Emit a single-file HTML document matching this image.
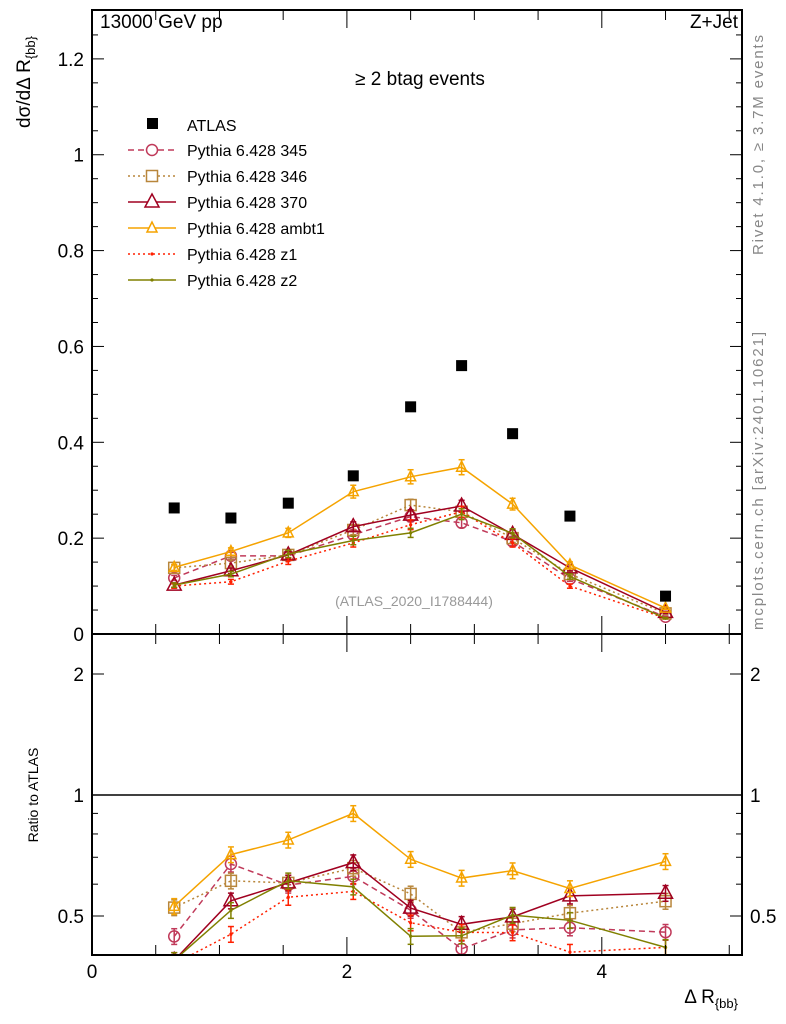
<!DOCTYPE html>
<html><head><meta charset="utf-8"><style>
html,body{margin:0;padding:0;background:#fff;}
svg{display:block;font-family:"Liberation Sans",sans-serif;}
</style></head><body>
<svg id="chart" width="786" height="1024" viewBox="0 0 786 1024">
<g id="static">
<text x="100" y="28" font-size="19">13000 GeV pp</text>
<text x="738" y="28" font-size="19" text-anchor="end">Z+Jet</text>
<text x="420" y="85" font-size="19" text-anchor="middle">≥ 2 btag events</text>
<text x="414" y="606" font-size="14" fill="#999" text-anchor="middle">(ATLAS_2020_I1788444)</text>
<text transform="translate(763,35) rotate(-90)" font-size="15" fill="#888" text-anchor="end" textLength="220">Rivet 4.1.0, ≥ 3.7M events</text>
<text transform="translate(763,630) rotate(-90)" font-size="15" fill="#888" textLength="298">mcplots.cern.ch [arXiv:2401.10621]</text>
<text transform="translate(30,36) rotate(-90)" font-size="19" text-anchor="end">dσ/dΔ R<tspan font-size="13" dy="5">{bb}</tspan></text>
<text transform="translate(38,795) rotate(-90)" font-size="14" text-anchor="middle">Ratio to ATLAS</text>
<text x="738" y="1003" font-size="19" text-anchor="end">Δ R<tspan font-size="13" dy="5">{bb}</tspan></text>
</g>
<g id="plots"></g>
</svg>
<script>
const xCenters=[0.645,1.09,1.54,2.05,2.5,2.9,3.3,3.75,4.5];
const atlasVals=[0.263,0.242,0.273,0.33,0.474,0.56,0.418,0.246,0.079];
const mc345=[0.117,0.163,0.163,0.207,0.245,0.232,0.193,0.115,0.036];
const mc346=[0.138,0.148,0.165,0.217,0.269,0.255,0.2,0.125,0.043];
const mc370=[0.102,0.132,0.165,0.224,0.248,0.267,0.208,0.138,0.045];
const mcAmbt1=[0.139,0.172,0.211,0.297,0.328,0.348,0.271,0.144,0.054];
const mcZ1=[0.1,0.109,0.152,0.19,0.228,0.255,0.19,0.1,0.033];
const mcZ2=[0.102,0.125,0.167,0.195,0.211,0.25,0.21,0.12,0.033];
const mainYTicks=[0,0.2,0.4,0.6,0.8,1,1.2];
const mainYTickLabels=["0","0.2","0.4","0.6","0.8","1","1.2"];
const xTicks=[0,2,4];
const xTickLabels=["0","2","4"];
const seriesNames=["Pythia 6.428 345","Pythia 6.428 346","Pythia 6.428 370","Pythia 6.428 ambt1","Pythia 6.428 z1","Pythia 6.428 z2"];

const NS="http://www.w3.org/2000/svg";
const X0=92,X1=742,XMAX=5.1;
const MT=10,MB=634,YMAX=1.302;
const RT=634,RB=955;
const sx=v=>X0+(X1-X0)*v/XMAX;
const sy=v=>MB-(MB-MT)*v/YMAX;
const sr=v=>795-121*Math.log2(v);
const root=document.getElementById('plots');
function el(tag,attrs,parent){const e=document.createElementNS(NS,tag);for(const k in attrs)e.setAttribute(k,attrs[k]);(parent||root).appendChild(e);return e;}

const styles=[
 {c:'#c03a5a',dash:'6,4',m:'circle'},
 {c:'#b8863b',dash:'2,3',m:'square'},
 {c:'#a00020',dash:'',m:'bigtri'},
 {c:'#f5a300',dash:'',m:'tri'},
 {c:'#ff2000',dash:'2,3',m:'dot'},
 {c:'#808000',dash:'',m:'dot'}];
const series=[mc345,mc346,mc370,mcAmbt1,mcZ1,mcZ2];

const defs=el('defs',{});
const c1=el('clipPath',{id:'cm'},defs);el('rect',{x:X0,y:MT,width:X1-X0,height:MB-MT},c1);
const c2=el('clipPath',{id:'cr'},defs);el('rect',{x:X0,y:RT,width:X1-X0,height:RB-RT},c2);

function marker(g,s,x,y){
 if(s.m==='circle')return el('circle',{cx:x,cy:y,r:5.5,fill:'none',stroke:s.c,'stroke-width':1.5},g);
 if(s.m==='square')return el('rect',{x:x-5.5,y:y-5.5,width:11,height:11,fill:'none',stroke:s.c,'stroke-width':1.5},g);
 if(s.m==='bigtri')return el('polygon',{points:`${x},${y-8} ${x-7},${y+5} ${x+7},${y+5}`,fill:'none',stroke:s.c,'stroke-width':1.5},g);
 if(s.m==='tri')return el('polygon',{points:`${x},${y-6} ${x-5},${y+4} ${x+5},${y+4}`,fill:'none',stroke:s.c,'stroke-width':1.5},g);
 return el('circle',{cx:x,cy:y,r:1.6,fill:s.c},g);
}

function drawPanel(clip,yfun,valsFn,panel){
 const g=el('g',{'clip-path':`url(#${clip})`});
 
 
 series.forEach((vals,i)=>{
  const s=styles[i];
  const v=valsFn(vals);
  const sg=el('g',{},g);
  
  
  const pts=xCenters.map((x,j)=>sx(x)+','+yfun(v[j])).join(' ');
  el('polyline',{points:pts,fill:'none',stroke:s.c,'stroke-width':1.5,'stroke-dasharray':s.dash},sg);
  xCenters.forEach((x,j)=>{
   const y=yfun(v[j]);const e=v[j]*0.045;
   const y1=yfun(v[j]+e),y2=yfun(v[j]-e);
   el('line',{x1:sx(x),x2:sx(x),y1:y1,y2:y2,stroke:s.c,'stroke-width':1.5},sg);
   el('line',{x1:sx(x)-3,x2:sx(x)+3,y1:y1,y2:y1,stroke:s.c,'stroke-width':1.5},sg);
   el('line',{x1:sx(x)-3,x2:sx(x)+3,y1:y2,y2:y2,stroke:s.c,'stroke-width':1.5},sg);
   const m=marker(sg,s,sx(x),y);
   
   
  });
 });
 return g;
}
drawPanel('cm',sy,v=>v,'main');
drawPanel('cr',sr,v=>v.map((a,j)=>a/atlasVals[j]),'ratio');
atlasVals.forEach((v,j)=>{
 const r=el('rect',{x:sx(xCenters[j])-5.5,y:sy(v)-5.5,width:11,height:11,fill:'#000'});
 
 
});
el('line',{x1:X0,x2:X1,y1:sr(1),y2:sr(1),stroke:'#000','stroke-width':1.5});

el('rect',{x:X0,y:MT,width:X1-X0,height:MB-MT,fill:'none',stroke:'#000','stroke-width':2});
el('rect',{x:X0,y:RT,width:X1-X0,height:RB-RT,fill:'none',stroke:'#000','stroke-width':2});

for(let v=0;v<=1.3;v+=0.05){
 const major=Math.abs(v/0.2-Math.round(v/0.2))<1e-6;const L=major?12:6;const y=sy(v);
 el('line',{x1:X0,x2:X0+L,y1:y,y2:y,stroke:'#000'});el('line',{x1:X1-L,x2:X1,y1:y,y2:y,stroke:'#000'});
}
mainYTicks.forEach((v,i)=>{const t=el('text',{x:X0-8,y:sy(v)+7,'font-size':19,'text-anchor':'end'});t.textContent=mainYTickLabels[i];
 });
for(let v=0;v<=5.1;v+=0.5){
 const major=Math.abs(v%2)<1e-6;const L=major?18:10;const x=sx(v);
 [MB,RB].forEach(b=>el('line',{x1:x,x2:x,y1:b,y2:b-L,stroke:'#000'}));
 el('line',{x1:x,x2:x,y1:MT,y2:MT+L,stroke:'#000'});
 el('line',{x1:x,x2:x,y1:RT,y2:RT+L,stroke:'#000'});
}
xTicks.forEach((v,i)=>{const t=el('text',{x:sx(v),y:978,'font-size':19,'text-anchor':'middle'});t.textContent=xTickLabels[i];
 });
[0.4,0.5,0.6,0.7,0.8,0.9,1,2].forEach(v=>{const y=sr(v);const L=(v===0.5||v===1||v===2)?12:6;
 el('line',{x1:X0,x2:X0+L,y1:y,y2:y,stroke:'#000'});el('line',{x1:X1-L,x2:X1,y1:y,y2:y,stroke:'#000'});});
[[0.5,'0.5'],[1,'1'],[2,'2']].forEach(([v,s])=>{
 const t=el('text',{x:X0-8,y:sr(v)+7,'font-size':19,'text-anchor':'end'});t.textContent=s;
 
 const t2=el('text',{x:X1+8,y:sr(v)+7,'font-size':19});t2.textContent=s;
 
});

const lg=el('g',{});


el('rect',{x:147,y:118,width:11,height:11,fill:'#000'},lg);
const at=el('text',{x:187,y:131,'font-size':16},lg);at.textContent='ATLAS';
seriesNames.forEach((n,i)=>{
 const y=150+i*26;const s=styles[i];
 const eg=el('g',{},lg);
 
 
 el('line',{x1:128,x2:176,y1:y,y2:y,stroke:s.c,'stroke-width':1.5,'stroke-dasharray':s.dash},eg);
 if(s.m!=='dot'){const m=marker(eg,s,152,y);m.setAttribute('fill','#fff');} else marker(eg,s,152,y);
 const t=el('text',{x:187,y:y+6,'font-size':16},eg);t.textContent=n;
});
</script>
</body></html>
